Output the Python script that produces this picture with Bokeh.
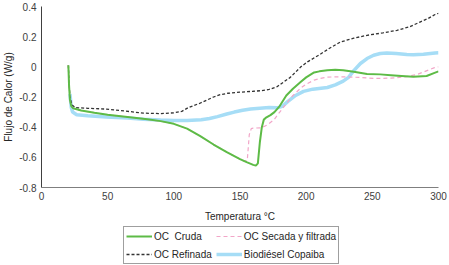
from bokeh.plotting import figure
from bokeh.models import Legend, LegendItem, FixedTicker, Range1d
from bokeh.layouts import column
from bokeh.embed import file_html
from bokeh.resources import INLINE

# ---- data ----
cruda_t = [20.3, 20.8, 21.5, 22.5, 24, 26, 30, 40, 50, 60, 70, 80, 90, 100, 110, 120, 130, 140, 150, 155, 160, 162, 163.5, 165, 166.5, 168, 170, 173, 176, 180, 185, 190, 196, 200, 206, 210, 216, 222, 228, 236, 246, 256, 264, 272, 281, 291, 297, 300]
cruda_y = [0.01, -0.12, -0.22, -0.26, -0.275, -0.28, -0.29, -0.305, -0.318, -0.328, -0.338, -0.348, -0.36, -0.378, -0.41, -0.46, -0.515, -0.565, -0.612, -0.632, -0.65, -0.655, -0.64, -0.5, -0.4, -0.35, -0.335, -0.32, -0.3, -0.26, -0.19, -0.145, -0.099, -0.07, -0.037, -0.03, -0.022, -0.02, -0.022, -0.033, -0.048, -0.05, -0.055, -0.06, -0.066, -0.061, -0.04, -0.03]

secada_t = [20.3, 20.8, 21.5, 22.5, 24, 26, 30, 40, 50, 60, 70, 80, 90, 100, 110, 120, 130, 140, 150, 153, 155.5, 157, 158.5, 160, 166, 170.8, 175.8, 178.3, 185.8, 190, 196, 200, 206, 210, 216, 228, 240, 251, 264, 276, 284, 289, 297, 300]
secada_y = [0.01, -0.12, -0.22, -0.26, -0.275, -0.28, -0.29, -0.305, -0.318, -0.328, -0.338, -0.348, -0.36, -0.378, -0.41, -0.46, -0.515, -0.565, -0.612, -0.625, -0.62, -0.45, -0.41, -0.406, -0.405, -0.384, -0.35, -0.32, -0.235, -0.19, -0.14, -0.115, -0.088, -0.078, -0.068, -0.066, -0.07, -0.077, -0.075, -0.065, -0.05, -0.033, -0.005, 0.0]

refinada_t = [20.3, 20.8, 21.5, 22.9, 25.4, 35, 49, 60, 77, 90, 100, 106, 111, 120, 130, 135, 141, 150, 160, 166, 172, 178, 183, 188, 196, 201, 210, 218, 226, 236, 246, 258, 268.6, 278, 286, 292, 297.4, 300]
refinada_y = [0.01, -0.1, -0.2, -0.25, -0.27, -0.275, -0.28, -0.29, -0.307, -0.31, -0.305, -0.295, -0.27, -0.24, -0.2, -0.185, -0.175, -0.168, -0.162, -0.158, -0.15, -0.132, -0.1, -0.07, 0.0, 0.033, 0.08, 0.125, 0.165, 0.19, 0.209, 0.225, 0.242, 0.265, 0.297, 0.32, 0.347, 0.355]

bio_t = [21.5, 22.5, 23.5, 26.6, 35, 49, 65, 77, 90, 100, 110, 120.7, 127, 133, 140, 145.7, 152, 158, 165, 172, 178, 182, 186, 192, 198, 205, 216, 222, 228, 232, 236, 241, 246, 251, 256, 261, 268, 276, 281, 288.6, 297.4, 300]
bio_y = [-0.18, -0.27, -0.3, -0.318, -0.325, -0.332, -0.34, -0.347, -0.353, -0.356, -0.356, -0.351, -0.343, -0.33, -0.313, -0.3, -0.288, -0.279, -0.274, -0.27, -0.272, -0.262, -0.231, -0.19, -0.163, -0.148, -0.137, -0.12, -0.095, -0.07, -0.025, 0.022, 0.055, 0.077, 0.088, 0.092, 0.088, 0.082, 0.08, 0.084, 0.092, 0.093]

x_ticks = [0, 50, 100, 150, 200, 250, 300]
y_ticks = [-0.8, -0.6, -0.4, -0.2, 0, 0.2, 0.4]
y_tick_labels = ["-0.8", "-0.6", "-0.4", "-0.2", "0", "0.2", "0.4"]

labels = ["OC  Cruda", "OC Secada y filtrada", "OC Refinada", "Biodiésel Copaiba"]

FONT = "Liberation Sans"
TXT = "#404040"
NAN = [float("nan")]

STY = {
    "bio": dict(line_color="#A6DDF6", line_width=3.5),
    "ref": dict(line_color="#333333", line_width=1.3, line_dash="3 2"),
    "sec": dict(line_color="#F2A6C8", line_width=1.2, line_dash="4 3"),
    "cru": dict(line_color="#5DBB46", line_width=2),
}

p = figure(width=449, height=226, output_backend="svg", toolbar_location=None,
           x_range=Range1d(0, 300), y_range=Range1d(-0.8, 0.4),
           min_border_left=0, min_border_right=11, min_border_top=6, min_border_bottom=39)
p.outline_line_color = None
p.grid.visible = False

p.line(bio_t, bio_y, **STY["bio"])
p.line(refinada_t, refinada_y, **STY["ref"])
p.line(secada_t, secada_y, **STY["sec"])
p.line(cruda_t, cruda_y, **STY["cru"])

for ax in (p.xaxis[0], p.yaxis[0]):
    ax.major_tick_out = 0
    ax.major_tick_in = 0
    ax.minor_tick_out = 0
    ax.minor_tick_in = 0
    ax.major_label_text_font = FONT
    ax.major_label_text_font_size = "10px"
    ax.major_label_text_color = TXT
    ax.axis_label_text_font = FONT
    ax.axis_label_text_font_size = "10px"
    ax.axis_label_text_font_style = "normal"
    ax.axis_label_text_color = "#262626"

p.xaxis.ticker = FixedTicker(ticks=x_ticks)
p.yaxis.ticker = FixedTicker(ticks=y_ticks)
p.yaxis.major_label_overrides = {t: l for t, l in zip(y_ticks, y_tick_labels)}
p.xaxis.axis_label = "Temperatura °C"
p.yaxis.axis_label = "Flujo de Calor (W/g)"
p.xaxis.axis_line_color = "#7f7f7f"
p.yaxis.axis_line_color = "#404040"
p.xaxis.major_label_standoff = 4
p.xaxis.axis_label_standoff = 8
p.yaxis.major_label_standoff = 5
p.yaxis.axis_label_standoff = 2

# legend strip
q = figure(width=449, height=39, output_backend="svg", toolbar_location=None,
           min_border=0, x_range=Range1d(0, 1), y_range=Range1d(0, 1))
q.axis.visible = False
q.grid.visible = False
q.outline_line_color = None
l_cru = q.line(NAN, NAN, **STY["cru"])
l_sec = q.line(NAN, NAN, **STY["sec"])
l_ref = q.line(NAN, NAN, **STY["ref"])
l_bio = q.line(NAN, NAN, **STY["bio"])

legend = Legend(items=[LegendItem(label=labels[0], renderers=[l_cru]),
                       LegendItem(label=labels[2], renderers=[l_ref]),
                       LegendItem(label=labels[1], renderers=[l_sec]),
                       LegendItem(label=labels[3], renderers=[l_bio])],
                ncols=2, location=(82, 1))
legend.label_text_font = FONT
legend.label_text_font_size = "10px"
legend.label_text_color = "#262626"
legend.glyph_width = 26
legend.glyph_height = 14
legend.label_height = 14
legend.label_standoff = 2
legend.spacing = 4
legend.padding = 2
legend.margin = 0
legend.border_line_color = "#404040"
legend.border_line_width = 1
legend.background_fill_alpha = 1
q.add_layout(legend, "center")

layout = column(p, q, spacing=0)
open("out.html", "w").write(file_html(layout, INLINE))
